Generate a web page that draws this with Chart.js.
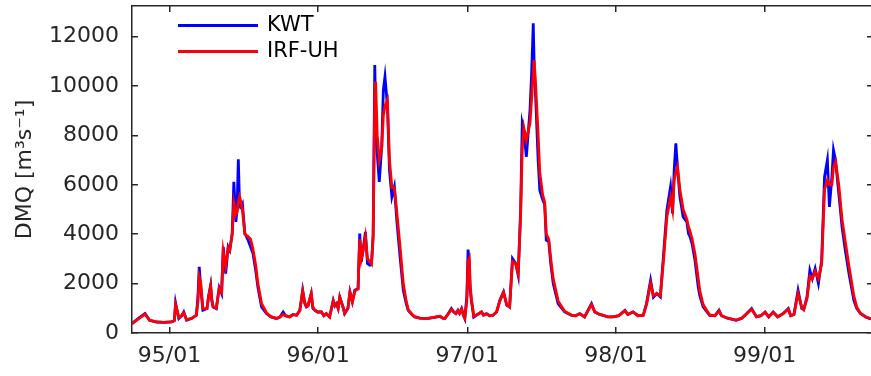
<!DOCTYPE html>
<html><head><meta charset="utf-8">
<script src="https://cdn.jsdelivr.net/npm/chart.js@4"></script>
<style>html,body{margin:0;padding:0;overflow:hidden;background:#fff}#wrap{position:relative;width:876px;height:376px}</style>
</head><body><div id="wrap"><canvas id="c"></canvas></div>
<script>
// Day offsets counted from 1994-10-01
const days = [0,15,32,43,60,78,97,104,107,112,115,122,127,134,146,158,162,165,169,174,184,188,193,196,199,207,214,220,224,230,236,240,246,250,255,258,261,264,266,271,277,285,291,297,304,309,318,330,341,355,363,371,377,387,395,404,412,419,424,428,432,440,444,449,456,465,471,477,485,494,498,502,506,510,515,518,522,530,535,541,547,555,559,563,567,573,578,584,588,592,596,598,602,607,613,617,621,627,632,638,644,650,658,666,673,678,687,694,706,723,738,756,763,768,775,784,790,795,800,804,809,813,817,822,825,828,830,833,839,848,858,863,870,878,886,895,903,912,920,927,934,942,948,954,958,962,968,977,981,985,987,991,997,1001,1008,1013,1017,1023,1028,1034,1046,1062,1079,1089,1099,1111,1128,1136,1148,1156,1168,1181,1195,1210,1217,1230,1242,1255,1263,1273,1280,1288,1297,1305,1313,1322,1327,1331,1335,1339,1345,1353,1362,1366,1370,1375,1382,1390,1394,1402,1418,1431,1441,1447,1462,1483,1497,1509,1521,1533,1544,1554,1563,1574,1585,1598,1611,1617,1625,1635,1644,1649,1657,1664,1670,1677,1685,1693,1700,1707,1712,1718,1722,1727,1735,1743,1751,1760,1772,1779,1788,1801,1811,1819];
const kwt = [380,584,786,515,446,430,446,500,1216,800,584,700,851,515,584,717,1500,2676,1800,920,989,1500,1934,1300,1054,989,1840,1597,3487,2408,3487,3352,4030,6122,4500,5000,7030,5200,5108,5246,4030,3758,3487,3219,2500,1865,1054,786,650,584,650,851,700,649,750,717,920,1731,1200,1054,1100,1597,1000,920,850,851,700,786,649,1325,1100,1190,1000,1460,1200,1054,786,1000,1662,1257,1731,1800,4030,2878,3352,4095,2813,2745,2813,4000,10852,9000,7273,6122,7540,9839,10378,9200,6596,5513,5919,4569,3081,1731,1200,920,750,649,600,584,620,677,600,584,750,989,850,786,920,800,989,750,584,1500,3381,2800,1800,1325,649,750,851,720,786,700,717,850,1325,1662,1123,1054,3016,2813,2339,4974,8489,8200,7135,9028,10516,12543,11000,9500,7001,5784,5400,5200,3758,3700,2800,2003,1190,851,717,700,786,650,1190,851,750,717,650,650,700,920,750,851,700,717,1190,2136,1450,1600,1460,3219,4974,5919,4840,6596,7678,6700,5513,4703,4500,4030,3892,3600,2947,1865,1500,1054,717,700,920,700,600,515,600,786,989,650,700,851,650,851,650,780,989,700,750,1731,1000,950,1460,2542,2200,2610,2003,2947,6325,7001,5108,6300,7407,7000,5651,4297,3352,2408,1325,1000,786,650,584,584];
const irfuh = [380,560,760,520,450,430,450,500,1150,850,620,700,820,540,590,720,1300,2270,2000,1000,990,1450,1900,1350,1080,1000,1800,1650,3300,2700,3450,3350,4000,5246,4800,4900,5300,5513,5400,5000,4000,3900,3800,3400,2700,2000,1200,820,660,590,640,750,700,650,740,720,900,1700,1250,1080,1100,1600,1050,920,850,850,700,780,650,1300,1120,1190,1000,1450,1200,1050,800,1000,1650,1260,1700,1780,3800,3000,3300,3900,3000,2900,2800,3900,9500,10176,8000,7000,7500,8800,9200,9434,7000,5900,5900,4900,3500,2000,1300,950,760,660,600,580,620,680,600,590,740,950,850,790,900,800,970,760,600,1300,2900,3016,2000,1400,680,750,850,720,780,700,720,850,1300,1650,1150,1050,2900,2800,2400,4800,7500,8300,7800,8500,9500,10500,11055,10000,8000,6500,5600,5300,4000,3800,3000,2200,1300,880,720,700,780,660,1150,850,750,720,650,650,700,900,750,850,700,720,1150,2000,1500,1600,1500,3000,4700,5500,5000,6200,6500,6730,5800,5000,4600,4300,4100,3800,3200,2200,1700,1150,730,700,900,700,600,520,600,780,960,660,700,840,660,840,660,780,960,700,750,1600,1050,950,1400,2300,2200,2500,2200,2800,5800,6200,6000,6000,6700,6932,6000,4600,3700,2700,1500,1050,800,660,590,590];
const seriesNames = ['KWT', 'IRF-UH'];
const xTickDays = [92, 457, 823, 1188, 1553];
const xTickLabels = ['95/01', '96/01', '97/01', '98/01', '99/01'];
const yTickValues = [0, 2000, 4000, 6000, 8000, 10000, 12000];
const yTitle = 'DMQ [m³s⁻¹]';

const axisColor = '#262626';
const tickFont = {family: 'DejaVu Sans', size: 22};
const gridOpts = {drawOnChartArea: false, drawTicks: true, tickLength: -6, color: axisColor, lineWidth: 1.5};
const borderOpts = {display: true, color: axisColor, width: 1.5};
const setXTicks = s => { s.ticks = xTickDays.map(v => ({value: v})); };
const setYTicks = s => { s.ticks = yTickValues.map(v => ({value: v})); };
const noPad = s => { s.paddingTop = 0; s.paddingBottom = 0; s.paddingLeft = 0; s.paddingRight = 0; };

const legendPlugin = {
  id: 'insideLegend',
  afterDatasetsDraw(chart) {
    const {ctx, chartArea} = chart;
    ctx.save();
    ctx.font = '21px "DejaVu Sans"';
    ctx.textBaseline = 'middle';
    ctx.textAlign = 'left';
    chart.data.datasets.forEach((ds, i) => {
      const y = chartArea.top + 19.5 + i * 26;
      const x0 = chartArea.left + 46;
      ctx.strokeStyle = ds.borderColor;
      ctx.lineWidth = 3;
      ctx.beginPath(); ctx.moveTo(x0, y); ctx.lineTo(x0 + 80, y); ctx.stroke();
      ctx.fillStyle = '#000';
      ctx.fillText(ds.label, x0 + 89, y);
    });
    ctx.restore();
  }
};

new Chart(document.getElementById('c'), {
  type: 'line',
  data: {
    datasets: [
      {label: seriesNames[0], data: days.map((d, i) => ({x: d, y: kwt[i]})), borderColor: '#0000ff', borderWidth: 2.8, pointRadius: 0, tension: 0, order: 1},
      {label: seriesNames[1], data: days.map((d, i) => ({x: d, y: irfuh[i]})), borderColor: '#ff0000', borderWidth: 2.8, pointRadius: 0, tension: 0, order: 0}
    ]
  },
  options: {
    responsive: true, maintainAspectRatio: false, animation: false, devicePixelRatio: 1,
    layout: {padding: {top: 6, right: 3, left: 0, bottom: 0}},
    plugins: {legend: {display: false}, tooltip: {enabled: false}},
    scales: {
      x: {type: 'linear', position: 'bottom', min: 0, max: 1819, grid: gridOpts, border: borderOpts,
          ticks: {autoSkip: false, maxRotation: 0, padding: 16, font: tickFont, color: axisColor, callback: (v, i) => xTickLabels[i]},
          afterBuildTicks: setXTicks, afterFit: s => { s.height = 43; noPad(s); }},
      x2: {type: 'linear', axis: 'x', position: 'top', min: 0, max: 1819, grid: gridOpts, border: borderOpts,
          ticks: {display: false}, afterBuildTicks: setXTicks, afterFit: s => { s.height = 0; noPad(s); }},
      y: {type: 'linear', position: 'left', min: 0, max: 13240, grid: gridOpts, border: borderOpts,
          ticks: {padding: 19, font: tickFont, color: axisColor, callback: v => String(v)},
          title: {display: true, text: yTitle, font: tickFont, color: axisColor, padding: {top: 12, bottom: 0}},
          afterBuildTicks: setYTicks, afterFit: s => { s.width = 132; noPad(s); }},
      y2: {type: 'linear', axis: 'y', position: 'right', min: 0, max: 13240, grid: gridOpts, border: borderOpts,
          ticks: {display: false}, afterBuildTicks: setYTicks, afterFit: s => { s.width = 0; noPad(s); }}
    }
  },
  plugins: [legendPlugin]
});
</script></body></html>
